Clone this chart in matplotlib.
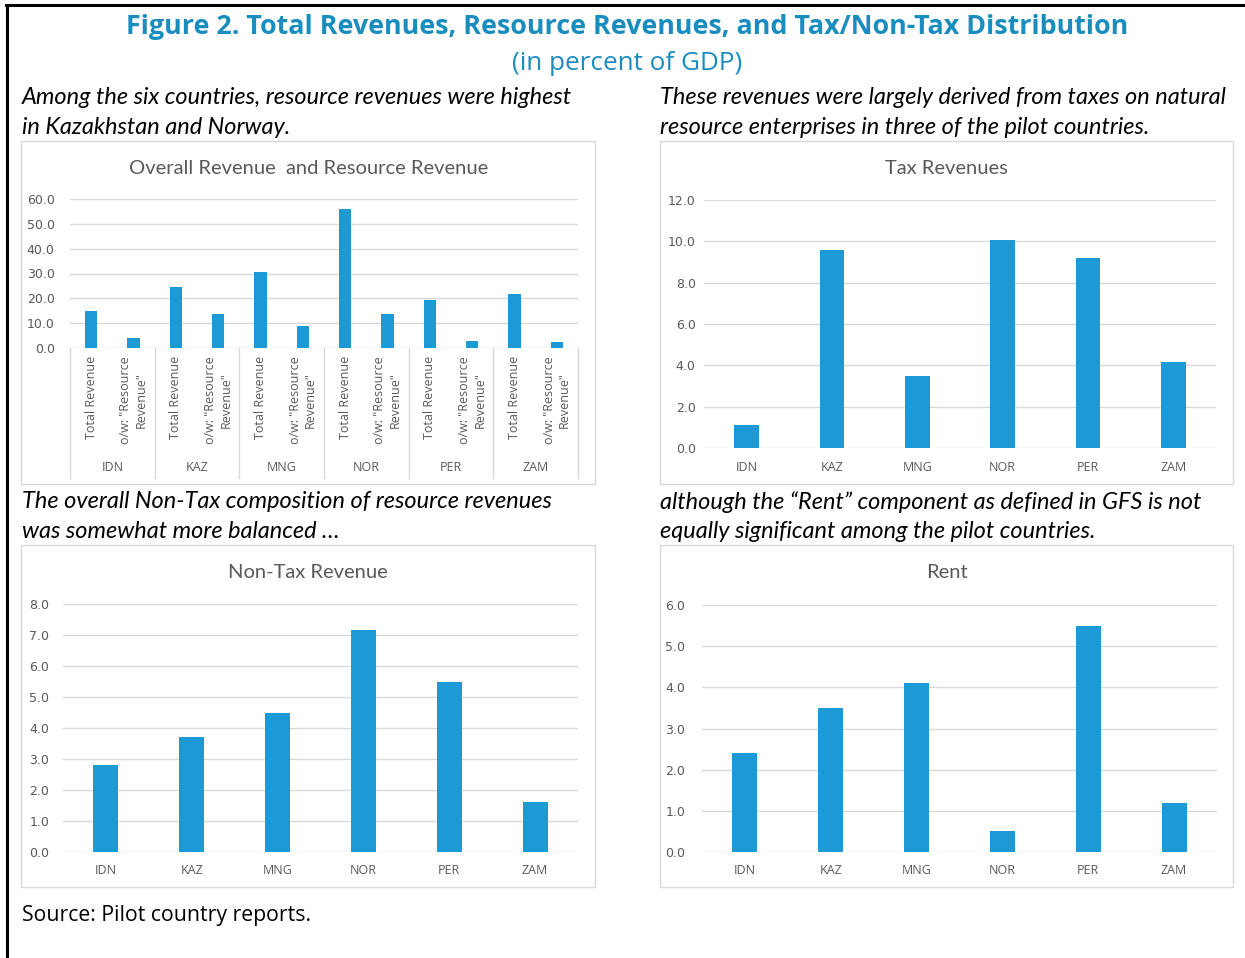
import numpy as np
import matplotlib
matplotlib.use("Agg")
from matplotlib import pyplot as plt
from matplotlib.lines import Line2D
from matplotlib.patches import Rectangle

countries = ["IDN", "KAZ", "MNG", "NOR", "PER", "ZAM"]
total_revenue = [15.0, 24.5, 30.8, 56.0, 19.3, 21.7]
resource_revenue = [4.0, 13.5, 8.8, 13.5, 3.0, 2.5]
tax_revenue = [1.1, 9.6, 3.5, 10.05, 9.2, 4.15]
non_tax_revenue = [2.8, 3.7, 4.5, 7.15, 5.5, 1.6]
rent = [2.4, 3.5, 4.1, 0.5, 5.5, 1.2]
sub_labels = ["Total Revenue", "o/w: \"Resource\nRevenue\""]

BLUE = "#1b9ad6"
TITLE_BLUE = "#1a8dbf"
GREY = "#595959"
GRID = "#d9d9d9"
W, H = 1245, 958

fig = plt.figure(figsize=(W / 100, H / 100), dpi=100)
fig.patch.set_facecolor("white")


def px_axes(x0, y0, x1, y1):
    # pixel box (top-left origin) -> figure axes
    return fig.add_axes([x0 / W, 1 - y1 / H, (x1 - x0) / W, (y1 - y0) / H])


def fx(x):
    return x / W


def fy(y):
    return 1 - y / H


def box(x0, y0, x1, y1):
    fig.patches.append(Rectangle((fx(x0), fy(y1)), fx(x1) - fx(x0), fy(y0) - fy(y1),
                                 transform=fig.transFigure, fill=False,
                                 edgecolor=GRID, lw=1.0))


def style(ax, ymax, step, ypad):
    ax.set_ylim(0, ymax)
    ax.set_yticks(np.arange(0, ymax + step / 2, step))
    ax.set_yticklabels([f"{v:.1f}" for v in np.arange(0, ymax + step / 2, step)])
    ax.grid(axis="y", color=GRID, lw=1.0)
    ax.set_axisbelow(True)
    for s in ax.spines.values():
        s.set_visible(False)
    ax.tick_params(axis="y", length=0, labelsize=9, labelcolor=GREY, pad=ypad)
    ax.tick_params(axis="x", length=0, labelsize=9, labelcolor=GREY, pad=9)


def simple_chart(rect, vals, title, ymax, step, bbox, ypad):
    box(*bbox)
    ax = px_axes(*rect)
    x = np.arange(len(countries))
    ax.bar(x, vals, width=0.29, color=BLUE, zorder=3)
    ax.set_xlim(-0.5, len(countries) - 0.5)
    ax.set_xticks(x)
    ax.set_xticklabels(countries, fontfamily="Open Sans")
    style(ax, ymax, step, ypad)
    fig.text(fx((bbox[0] + bbox[2]) / 2), fy(bbox[1] + 28), title, ha="center", va="center",
             fontsize=14.5, color=GREY, fontfamily="Lato")
    return ax


# chart 1: overall and resource revenue
box(21, 141, 595, 484)
ax1 = px_axes(70, 199, 578, 348)
n = len(countries)
pos_total = np.arange(n) * 2
pos_res = np.arange(n) * 2 + 1
ax1.bar(pos_total, total_revenue, width=0.29, color=BLUE, zorder=3)
ax1.bar(pos_res, resource_revenue, width=0.29, color=BLUE, zorder=3)
ax1.set_xlim(-0.5, 2 * n - 0.5)
ax1.set_xticks([])
style(ax1, 60, 10, 11)
for i in range(n):
    for j, lab in enumerate(sub_labels):
        ax1.text(2 * i + j, -0.055, lab, transform=ax1.get_xaxis_transform(), rotation=90,
                 ha="center", va="top", multialignment="center", fontsize=9,
                 color=GREY, fontfamily="Open Sans", linespacing=1.25)
    ax1.text(2 * i + 0.5, -0.8, countries[i], transform=ax1.get_xaxis_transform(),
             ha="center", va="center", fontsize=9, color=GREY, fontfamily="Open Sans")
for k in range(n + 1):
    ax1.add_line(Line2D([2 * k - 0.5, 2 * k - 0.5], [0, -0.87], transform=ax1.get_xaxis_transform(),
                        color=GRID, lw=1.0, clip_on=False))
fig.text(fx(309), fy(168), "Overall Revenue  and Resource Revenue", ha="center", va="center",
         fontsize=14.5, color=GREY, fontfamily="Lato")

# chart 2-4
simple_chart((704, 200, 1216, 448), tax_revenue, "Tax Revenues", 12, 2, (660, 141, 1233, 484), 6)
simple_chart((63, 604, 578, 852), non_tax_revenue, "Non-Tax Revenue", 8, 1, (21, 545, 595, 887), 10)
simple_chart((702, 605, 1217, 852), rent, "Rent", 6, 1, (660, 545, 1233, 887), 12)

# headings
fig.text(fx(627), fy(27), "Figure 2. Total Revenues, Resource Revenues, and Tax/Non-Tax Distribution",
         ha="center", va="center", fontsize=19.4, fontweight="bold", color=TITLE_BLUE,
         fontfamily="Open Sans")
fig.text(fx(627), fy(63), "(in percent of GDP)", ha="center", va="center", fontsize=18.8,
         color=TITLE_BLUE, fontfamily="Open Sans")

cap = dict(ha="left", va="center", fontsize=16.9, style="italic", color="#000000", fontfamily="Lato")
fig.text(fx(22), fy(97), "Among the six countries, resource revenues were highest", **cap)
fig.text(fx(22), fy(127), "in Kazakhstan and Norway.", **cap)
fig.text(fx(660), fy(97), "These revenues were largely derived from taxes on natural", **cap)
fig.text(fx(660), fy(127), "resource enterprises in three of the pilot countries.", **cap)
fig.text(fx(22), fy(502), "The overall Non-Tax composition of resource revenues", **cap)
fig.text(fx(22), fy(532), "was somewhat more balanced \u2026", **cap)
fig.text(fx(660), fy(502), "although the \u201cRent\u201d component as defined in GFS is not", **cap)
fig.text(fx(660), fy(532), "equally significant among the pilot countries.", **cap)

fig.text(fx(22), fy(915), "Source: Pilot country reports.", ha="left", va="center", fontsize=15.3,
         color="#000000", fontfamily="Open Sans")

# outer frame lines
fig.add_artist(Line2D([fx(7), fx(7)], [fy(5), 0], transform=fig.transFigure, color="black", lw=2.2))
fig.add_artist(Line2D([fx(6), 1], [fy(5), fy(5)], transform=fig.transFigure, color="black", lw=2.2))

fig.savefig("out.png", dpi=100)
